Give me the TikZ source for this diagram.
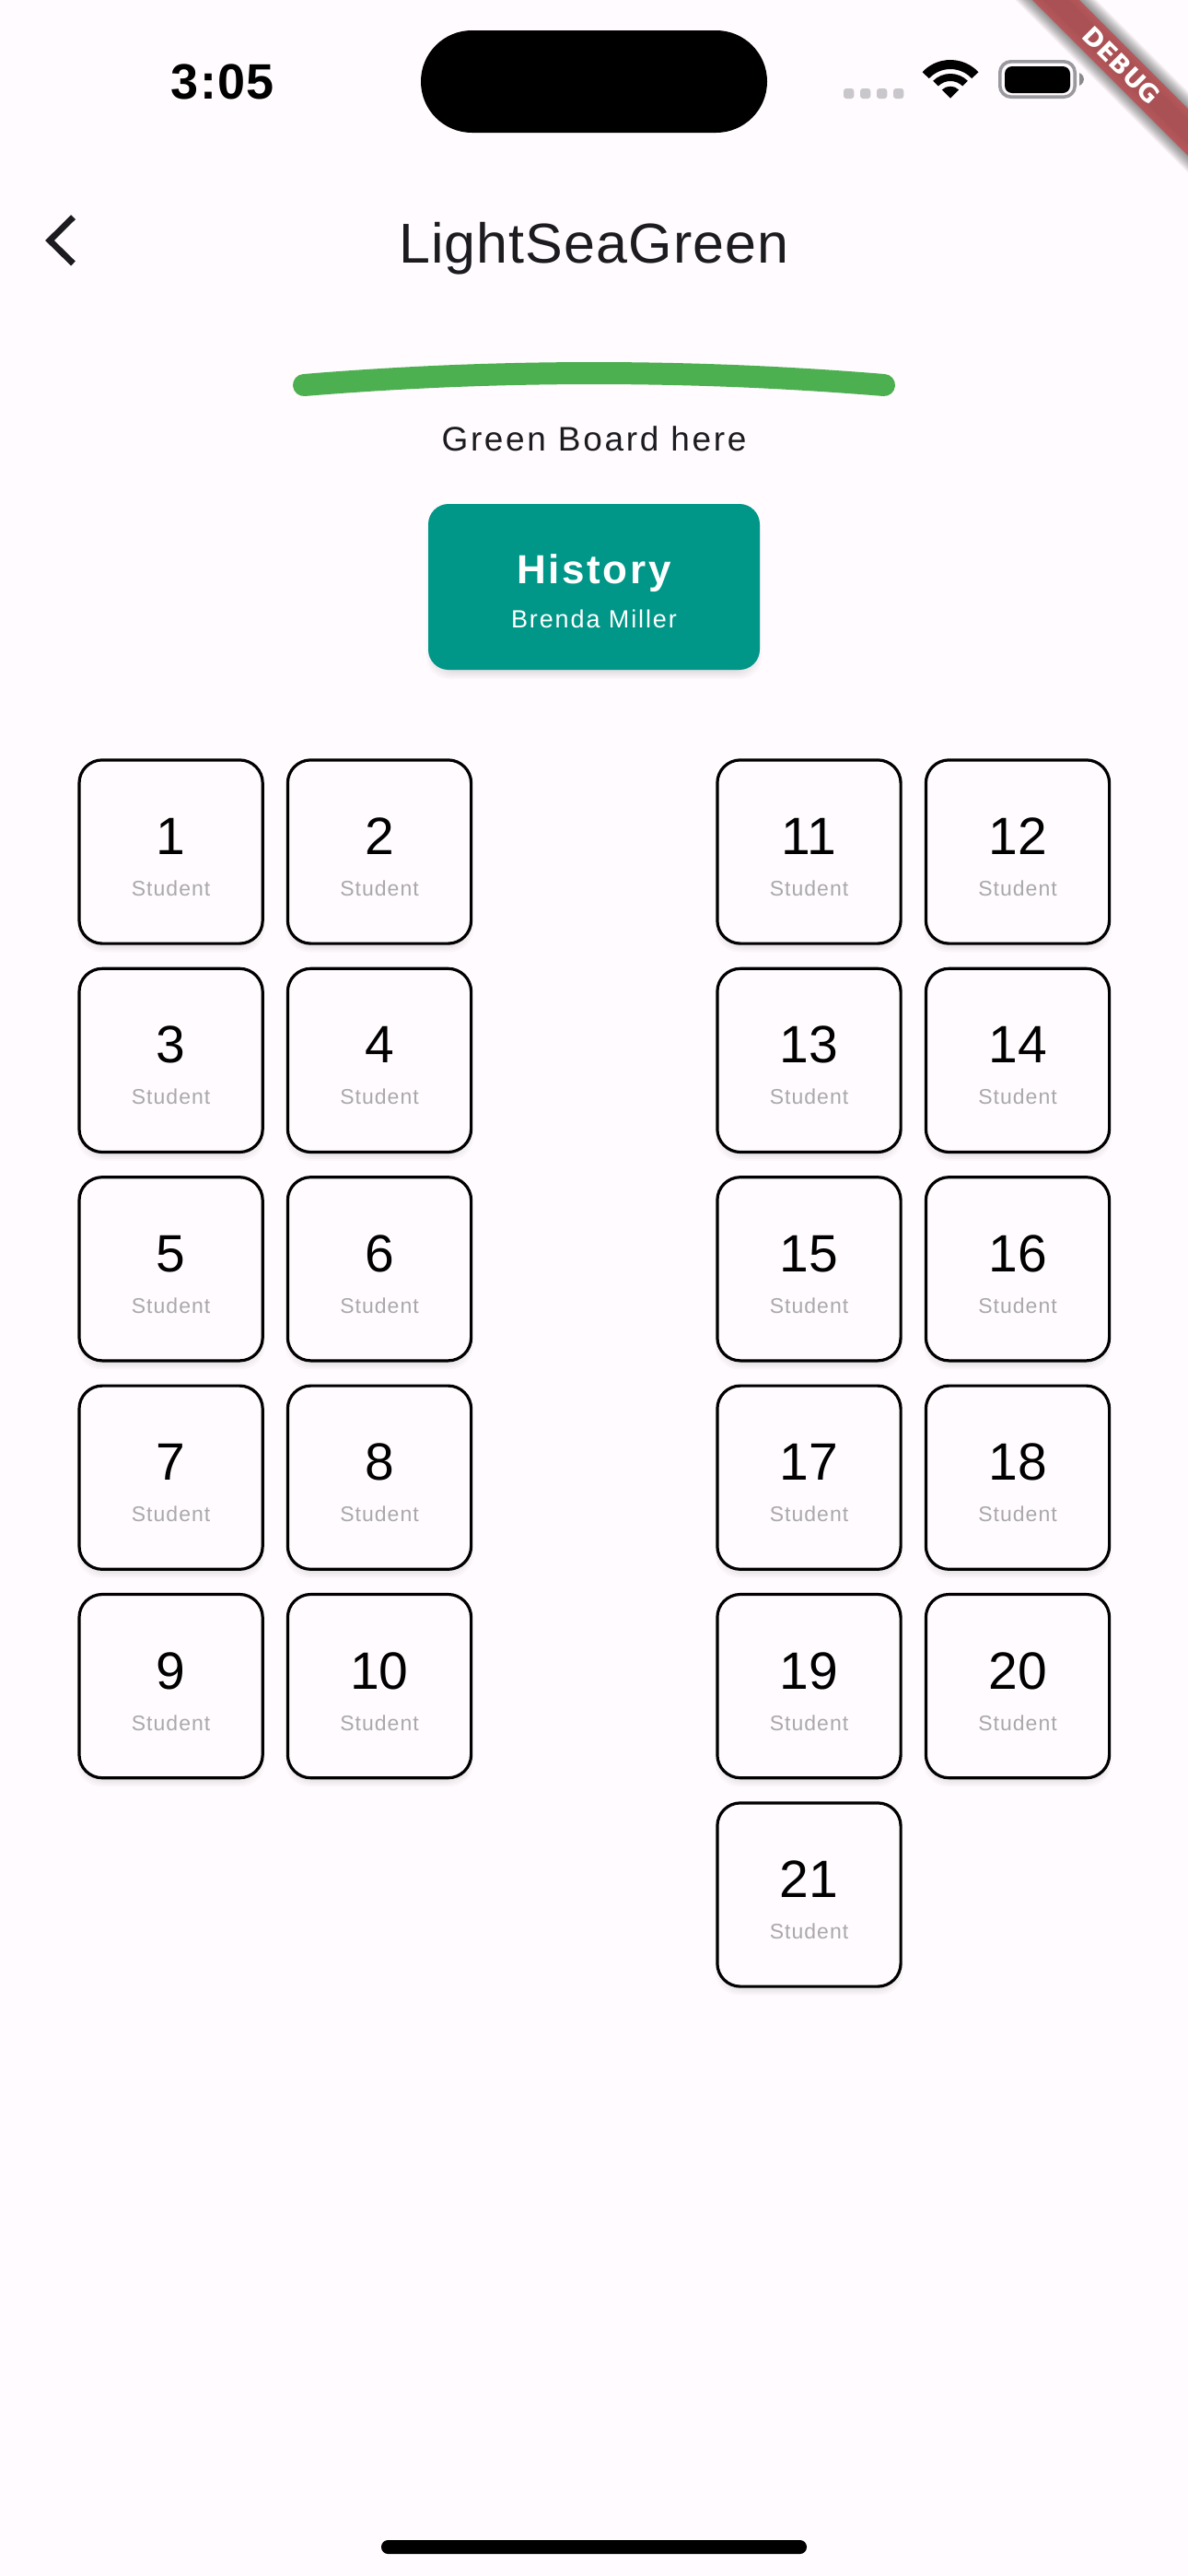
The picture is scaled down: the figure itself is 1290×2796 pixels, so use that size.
\documentclass[tikz,border=0pt]{standalone}
\usepackage{fontspec}
\setmainfont{Liberation Sans}
\newfontfamily\debugfont{DejaVu Sans}[BoldFont={DejaVu Sans Bold}]
\usetikzlibrary{calc}
\definecolor{pagebg}{HTML}{FFFBFE}
\definecolor{ink}{HTML}{1C1B1F}
\definecolor{teal}{HTML}{009688}
\definecolor{boardgreen}{HTML}{4CAF50}
\definecolor{ribbonred}{HTML}{B5575A}
\definecolor{dotgrey}{HTML}{C8C7CB}
\definecolor{battgrey}{HTML}{9A999E}
\definecolor{studgrey}{HTML}{A9A9AC}
\tikzset{
  x=0.5pt,y=-0.5pt,
  txt/.style={inner sep=0pt,outer sep=0pt,anchor=base},
  seat/.style={draw=black,line width=1.6pt,fill=pagebg,rounded corners=12.5pt,
     minimum width=99.6pt,minimum height=99.6pt,inner sep=0pt,outer sep=0pt},
  seatnum/.style={txt,text=black,font=\fontsize{28.5}{30}\selectfont},
  seatlab/.style={txt,text=studgrey,font=\fontsize{11.5}{13}\selectfont\addfontfeature{LetterSpace=4.5}},
  softshadow/.style={fill=black,fill opacity=0.024,draw=none},
}
\newcommand{\seatcard}[3]{%
  \foreach \e in {-8,-6,-4,-2,0,2}{
    \fill[softshadow,rounded corners=13pt] (#1-100-\e,#2-92-\e) rectangle (#1+100+\e,#2+107+\e);
  }
  \node[seat] (s#3) at (#1,#2) {};
  \node[seatnum] (n#3) at (#1,#2+3) {#3};
  \node[seatlab] (l#3) at (#1,#2+48) {Student};
}
\begin{document}
\begin{tikzpicture}
\useasboundingbox (0,0) rectangle (1290,2796);
\clip (0,0) rectangle (1290,2796);
\fill[pagebg] (0,0) rectangle (1290,2796);

% status bar
\node[txt,text=black,font=\fontsize{27}{30}\bfseries\selectfont\addfontfeature{LetterSpace=2.5}] (clock) at (242,107) {3:05};
\fill[black,rounded corners=27.7pt] (457,33) rectangle (833,144);
\foreach \dx in {916,934,952,970}{
  \fill[dotgrey,rounded corners=1.5pt] (\dx,96) rectangle (\dx+11.3,107);
}
\begin{scope}[xshift=516pt,yshift=-53.35pt,x=0.5pt,y=0.5pt]
  \fill[black] (0,0) -- (45:13) arc[start angle=45,end angle=135,radius=13] -- cycle;
  \fill[black] (45:18.7) -- (45:26.7) arc[start angle=45,end angle=135,radius=26.7] -- (135:18.7) arc[start angle=135,end angle=45,radius=18.7] -- cycle;
  \fill[black] (43:31.7) -- (43:41.7) arc[start angle=43,end angle=137,radius=41.7] -- (137:31.7) arc[start angle=137,end angle=43,radius=31.7] -- cycle;
\end{scope}
\draw[battgrey,line width=1.8pt,rounded corners=6pt] (1085.8,66.8) rectangle (1167.2,105.2);
\fill[black,rounded corners=4pt] (1091,72) rectangle (1162,101);
\fill[battgrey!90!black] (1172,79) .. controls (1176,81) and (1177,84) .. (1177,86) .. controls (1177,88) and (1176,91) .. (1172,93) -- cycle;

% debug ribbon
\coordinate (ra) at (1096.5,-50);
\coordinate (rb) at (1346.5,200);
\foreach \w in {38,41,44,47,50,53,56,59,62}{
  \draw[black,opacity=0.055,line width=\w*0.5pt] (ra) -- (rb);
}
\draw[ribbonred,line width=18pt] (ra) -- (rb);
\draw[black,opacity=0.03,line width=14pt] (ra) -- (rb);
\draw[black,opacity=0.03,line width=10pt] (ra) -- (rb);
\node[txt,anchor=center,text=white,rotate=-45,font=\debugfont\bfseries\fontsize{13.5}{14}\selectfont] (debug) at (1218,71) {DEBUG};

% app bar
\draw[ink,line width=3.4pt,miter limit=10] (79.5,235.7) coordinate (ba) -- (54,261) coordinate (bb) -- (79.5,286) coordinate (bc);
\node[txt,text=ink,font=\fontsize{30.5}{33}\selectfont\addfontfeature{LetterSpace=1.8}] (title) at (645,285) {LightSeaGreen};

% board
\coordinate (g1) at (330,418);
\coordinate (g2) at (960,418);
\draw[boardgreen,line width=12pt,line cap=round] (g1) .. controls (540,400.7) and (750,400.7) .. (g2);
\node[txt,text=ink,font=\fontsize{18.5}{20}\selectfont\addfontfeature{LetterSpace=7.2}] (boardlab) at (645,489) {Green Board here};

% teacher card
\foreach \e in {-8,-6,-4,-2,0,2}{
  \fill[softshadow,rounded corners=12pt] (465-\e,555-\e) rectangle (825+\e,735+\e);
}
\node[fill=teal,rounded corners=11pt,minimum width=180pt,minimum height=90pt,inner sep=0pt,outer sep=0pt] (teacher) at (645,637) {};
\node[txt,text=white,font=\fontsize{22}{24}\bfseries\selectfont\addfontfeature{LetterSpace=6}] (subject) at (645,633) {History};
\node[txt,text=white,font=\fontsize{13.5}{15}\selectfont\addfontfeature{LetterSpace=7}] (teachername) at (645,681) {Brenda Miller};

% seats
\foreach \i/\row in {1/0,3/1,5/2,7/3,9/4}{
  \pgfmathsetmacro{\cy}{924.5+226.4*\row}
  \pgfmathtruncatemacro{\j}{\i+1}
  \seatcard{185.6}{\cy}{\i}
  \seatcard{412}{\cy}{\j}
}
\foreach \i/\row in {11/0,13/1,15/2,17/3,19/4}{
  \pgfmathsetmacro{\cy}{924.5+226.4*\row}
  \pgfmathtruncatemacro{\j}{\i+1}
  \seatcard{878.5}{\cy}{\i}
  \seatcard{1105}{\cy}{\j}
}
\seatcard{878.5}{2056.5}{21}

% home indicator
\fill[black,rounded corners=3.7pt] (414,2757) rectangle (876,2772);
\end{tikzpicture}
\end{document}
